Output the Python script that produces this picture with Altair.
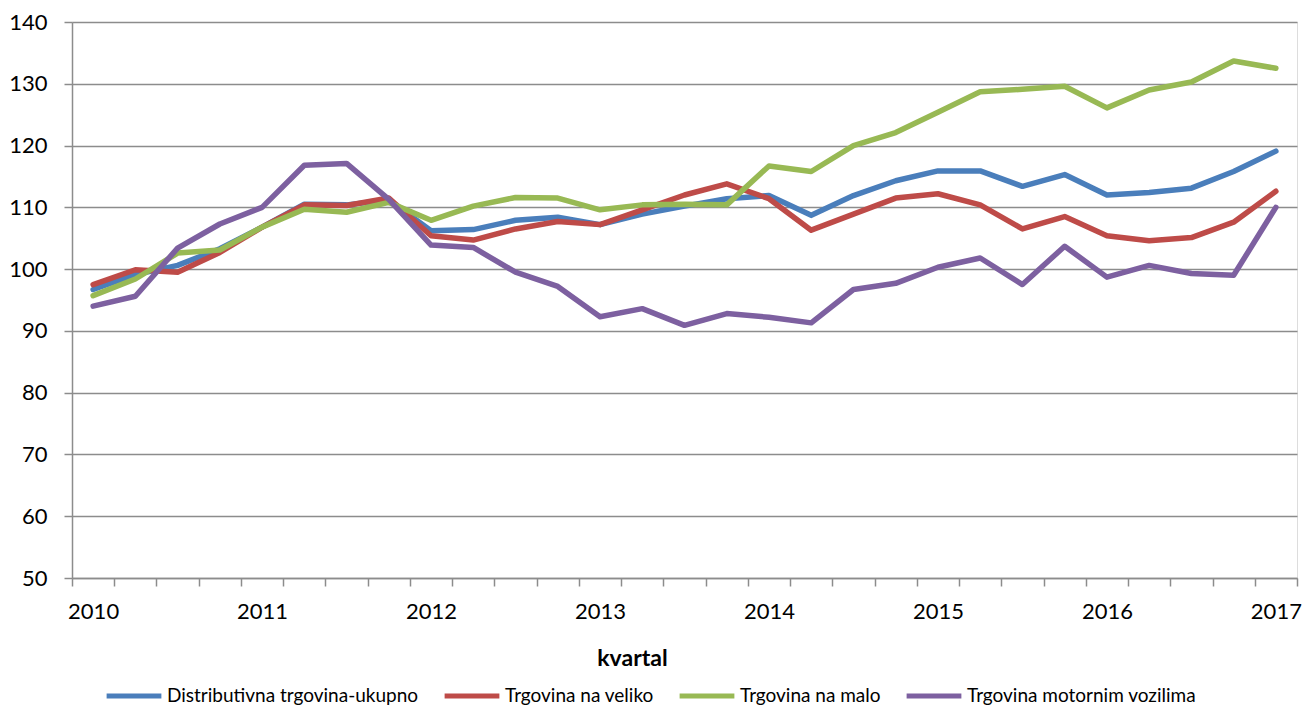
import altair as alt
import pandas as pd

quarters = [f"{y}Q{q}" for y in range(2010, 2018) for q in range(1, 5)][:29]

series_names = [
    "Distributivna trgovina-ukupno",
    "Trgovina na veliko",
    "Trgovina na malo",
    "Trgovina motornim vozilima",
]
colors = ["#4A7EBB", "#BE4B48", "#98B954", "#7D60A0"]

ukupno = [96.7, 99.1, 100.6, 103.3, 106.8, 110.5, 110.4, 111.2, 106.2, 106.4,
          107.9, 108.4, 107.2, 108.9, 110.2, 111.4, 111.9, 108.7, 111.9, 114.3,
          115.9, 115.9, 113.4, 115.3, 112.0, 112.4, 113.1, 115.8, 119.1]
veliko = [97.5, 99.9, 99.5, 102.7, 106.8, 110.4, 110.3, 111.5, 105.4, 104.7,
          106.5, 107.7, 107.2, 109.6, 112.0, 113.8, 111.4, 106.3, 108.9, 111.5,
          112.2, 110.4, 106.5, 108.5, 105.4, 104.6, 105.1, 107.6, 112.6]
malo = [95.7, 98.4, 102.6, 103.1, 106.8, 109.7, 109.2, 110.8, 107.9, 110.2,
        111.6, 111.5, 109.6, 110.4, 110.5, 110.4, 116.7, 115.8, 120.0, 122.1,
        125.4, 128.7, 129.1, 129.6, 126.1, 129.0, 130.3, 133.7, 132.5]
vozila = [94.0, 95.6, 103.4, 107.3, 110.0, 116.8, 117.1, 111.3, 103.9, 103.5,
          99.5, 97.2, 92.3, 93.6, 90.9, 92.8, 92.2, 91.3, 96.7, 97.7,
          100.3, 101.8, 97.5, 103.7, 98.7, 100.6, 99.3, 99.0, 110.0]

rows = []
for name, vals in zip(series_names, [ukupno, veliko, malo, vozila]):
    for i, (q, v) in enumerate(zip(quarters, vals)):
        rows.append({"idx": i, "kvartal": q, "serija": name, "vrijednost": v})
df = pd.DataFrame(rows)

n = len(quarters)
tick_values = [i - 0.5 for i in range(n + 1)]

FONT = "Lato"
GRID = "#8C8C8C"
band_px = 1225 / n

chart = alt.Chart(df).mark_line(strokeWidth=5.5, strokeCap="round", strokeJoin="round").encode(
    x=alt.X(
        "idx:Q",
        scale=alt.Scale(domain=[-0.5, n - 0.5], nice=False, zero=False),
        axis=alt.Axis(
            title="kvartal",
            titleFont=FONT,
            titleFontSize=23,
            titleFontWeight="bold",
            titleColor="#000000",
            titleX=560,
            titleY=80,
            titleBaseline="middle",
            values=tick_values,
            labelExpr="(datum.value + 0.5) % 4 == 0 && datum.value < " + str(n - 1) + " ? toString(2010 + (datum.value + 0.5) / 4) : ''",
            labelOffset=band_px / 2,
            labelAngle=0,
            labelFont=FONT,
            labelFontSize=22,
            labelColor="#000000",
            labelPadding=15,
            labelOverlap=False,
            labelFlush=False,
            tickSize=8,
            tickColor=GRID,
            tickWidth=1.5,
            domainColor=GRID,
            domainWidth=1.5,
            grid=False,
        ),
    ),
    y=alt.Y(
        "vrijednost:Q",
        scale=alt.Scale(domain=[50, 140], nice=False, zero=False),
        axis=alt.Axis(
            title=None,
            values=list(range(50, 141, 10)),
            labelFont=FONT,
            labelFontSize=22,
            labelColor="#000000",
            labelPadding=17,
            tickSize=8,
            tickColor=GRID,
            tickWidth=1.5,
            domainColor=GRID,
            domainWidth=1.5,
            grid=True,
            gridColor=GRID,
            gridWidth=1.5,
        ),
    ),
    color=alt.Color(
        "serija:N",
        scale=alt.Scale(domain=series_names, range=colors),
        legend=alt.Legend(
            title=None,
            orient="none",
            legendX=32,
            legendY=644,
            padding=0,
            direction="horizontal",
            symbolType="stroke",
            symbolSize=3000,
            symbolStrokeWidth=5,
            labelFont=FONT,
            labelFontSize=19,
            labelColor="#000000",
            labelOffset=3,
            columnPadding=15,
            labelLimit=400,
        ),
    ),
).properties(
    width=1225,
    height=556,
    autosize=alt.AutoSizeParams(type="none"),
    padding={"left": 64, "top": 14, "right": 9, "bottom": 127},
).configure_view(stroke=None).configure(background="white")

chart.save("out.html", embed_options={"renderer": "svg", "actions": False})
